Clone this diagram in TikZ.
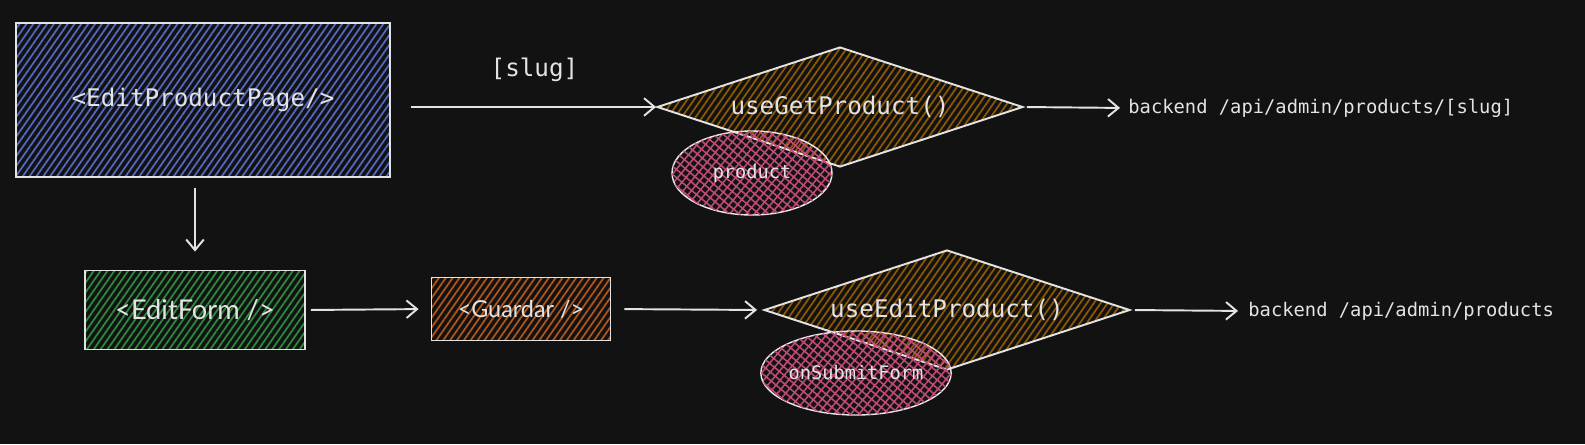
\documentclass[tikz,border=0pt]{standalone}
\usepackage{fontspec}
\setmonofont{DejaVu Sans Mono}
\newfontfamily\handfont{Lato}
\usetikzlibrary{shapes.geometric,arrows.meta,patterns.meta}
\definecolor{bgdark}{HTML}{121212}
\definecolor{inkwhite}{HTML}{E3E3E3}
\definecolor{hatchblue}{HTML}{5468C0}
\definecolor{hatchgreen}{HTML}{2B8A3E}
\definecolor{hatchorange}{HTML}{B0561A}
\definecolor{hatchbrown}{HTML}{8C5800}
\definecolor{hatchpink}{HTML}{C04A78}

\begin{document}
\begin{tikzpicture}[x=0.02cm,y=-0.02cm,
  box/.style={draw=inkwhite,line width=1.1pt,inner sep=0pt,text=inkwhite},
  hatch/.style={pattern={Lines[angle=55,distance=3.2pt,line width=1pt]},pattern color=#1},
  hook/.style={box,shape=diamond,aspect=3.05,minimum width=7.32cm,minimum height=2.4cm,
    font=\ttfamily\fontsize{13.8}{16}\selectfont,hatch=hatchbrown},
  blob/.style={shape=ellipse,draw=inkwhite!80,line width=0.8pt,minimum width=3.2cm,
    minimum height=1.68cm,inner sep=0pt,text=inkwhite,font=\ttfamily\fontsize{10.6}{12}\selectfont,
    pattern={Lines[angle=50,distance=3.6pt,line width=0.9pt]},pattern color=hatchpink,
    postaction={pattern={Lines[angle=-40,distance=3.6pt,line width=0.9pt]},pattern color=hatchpink}},
  conn/.style={draw=inkwhite,line width=1.1pt,-{Straight Barb[length=6pt,width=10pt]}},
  api/.style={anchor=west,inner sep=0pt,text=inkwhite,font=\ttfamily\fontsize{10.7}{12}\selectfont}]
	\useasboundingbox[fill=bgdark] (0,0) rectangle (1585,444);
	% components
	\node[box,hatch=hatchblue,minimum width=7.48cm,minimum height=3.08cm,
	  font=\ttfamily\fontsize{13.8}{16}\selectfont] (page) at (203,100) {<EditProductPage/>};
	\node[box,hatch=hatchgreen,minimum width=4.4cm,minimum height=1.58cm,
	  font=\handfont\fontsize{15.5}{18}\selectfont] (form) at (195,310) {<EditForm />};
	\node[box,hatch=hatchorange,minimum width=3.58cm,minimum height=1.26cm,
	  font=\handfont\fontsize{13.3}{16}\selectfont] (guard) at (521,309) {<Guardar />};
	% hooks
	\node[hook] (get) at (840,107) {useGetProduct()};
	\node[hook] (edit) at (947,310) {useEditProduct()};
	\node[blob] (prod) at (752,173) {product};
	\node[blob] (submit) at (856,373) {onSubmitForm};
	% backend
	\node[api] (apiget) at (1128,108) {backend /api/admin/products/[slug]};
	\node[api] (apiedit) at (1248,311) {backend /api/admin/products};
	% arrows
	\draw[conn,shorten <=0.4cm] (page.east |- get.west) -- (get.west)
	  node[midway,xshift=0.22cm,yshift=0.74cm,text=inkwhite,
	  font=\ttfamily\fontsize{13.8}{16}\selectfont] (slug) {[slug]};
	\draw[conn,shorten <=0.06cm,shorten >=0.16cm] (get.east) -- (apiget.west);
	\draw[conn,shorten <=0.2cm,shorten >=0.36cm] (page.south -| form.north) -- (form.north);
	\draw[conn,shorten <=0.1cm,shorten >=0.24cm] (form.east) -- (guard.west);
	\draw[conn,shorten <=0.26cm,shorten >=0.12cm] (guard.east) -- (edit.west);
	\draw[conn,shorten <=0.08cm,shorten >=0.2cm] (edit.east) -- (apiedit.west);
\end{tikzpicture}
\end{document}
